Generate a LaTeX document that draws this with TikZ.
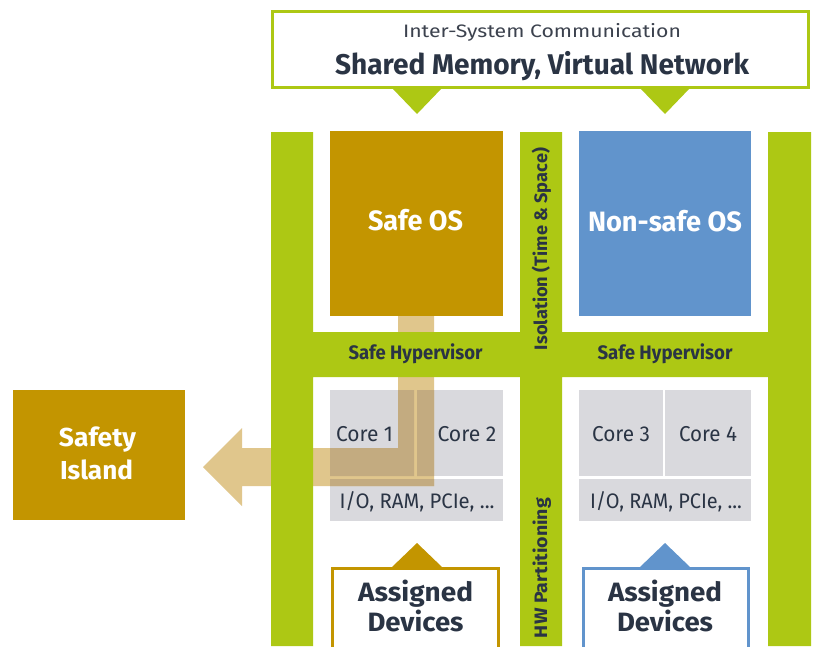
\documentclass[tikz,border=0pt]{standalone}
\usepackage{fontspec}
\setmainfont{Fira Sans}
\definecolor{hvgreen}{RGB}{173,200,20}
\definecolor{safegold}{RGB}{195,149,0}
\definecolor{nsblue}{RGB}{97,148,204}
\definecolor{coregrey}{RGB}{217,217,221}
\definecolor{arrowtan}{RGB}{224,198,140}
\definecolor{arrowdark}{RGB}{195,171,128}
\definecolor{darktext}{RGB}{42,52,68}
\definecolor{midtext}{RGB}{60,66,78}
\newcommand{\fitw}[2]{\resizebox{#1}{\height}{#2}}
\begin{document}
\begin{tikzpicture}[x=1pt,y=-1pt,
  blockbox/.style={inner sep=0pt,outer sep=0pt,draw=none},
  greybox/.style={blockbox,fill=coregrey},
  lbl/.style={inner sep=0pt,outer sep=0pt,anchor=base},
  every node/.append style={font=\fontsize{18}{20}\selectfont}]
\clip (0,0) rectangle (816,646);
\fill[white] (0,0) rectangle (816,646);

% core blocks
\node[greybox,minimum width=84pt,minimum height=86pt] (core1) at (372,433) {};
\node[greybox,minimum width=86pt,minimum height=86pt] (core2) at (460,433) {};
\node[greybox,minimum width=173pt,minimum height=42pt] (iol) at (416.5,500) {};
\node[greybox,minimum width=84pt,minimum height=86pt] (core3) at (621,433) {};
\node[greybox,minimum width=86pt,minimum height=86pt] (core4) at (708,433) {};
\node[greybox,minimum width=172pt,minimum height=42pt] (ior) at (665,500) {};

% fat arrow from Safe OS to Safety Island
\def\fatarrow{(434,316) -- (434,486) -- (242,486) -- (242,506) -- (203,467) -- (242,428) -- (242,448) -- (398,448) -- (398,316) -- cycle}
\fill[arrowtan] \fatarrow;
\begin{scope}
  \clip (core1.north west) rectangle (core1.south east)
        (core2.north west) rectangle (core2.south east)
        (iol.north west) rectangle (iol.south east);
  \fill[arrowdark] \fatarrow;
\end{scope}

% green hypervisor frame
\fill[hvgreen] (271,132) rectangle (313,646)
               (520,132) rectangle (562,646)
               (768,132) rectangle (811,646)
               (271,332) rectangle (811,377);

% OS blocks
\node[blockbox,fill=safegold,minimum width=173pt,minimum height=185pt] (safeos) at (416.5,223.5) {};
\node[blockbox,fill=nsblue,minimum width=172pt,minimum height=185pt] (nsos) at (665,223.5) {};
\node[blockbox,fill=safegold,minimum width=172pt,minimum height=130pt] (island) at (99,455) {};

% top communication box
\node[blockbox,draw=hvgreen,line width=3pt,fill=white,minimum width=536pt,minimum height=76pt] (comm) at (540.5,49.5) {};
\fill[hvgreen] (392,88) -- (442,88) -- (417,114) -- cycle;
\fill[hvgreen] (640,88) -- (690,88) -- (665,114) -- cycle;

% assigned devices
\node[blockbox,draw=safegold,line width=3pt,fill=white,minimum width=166pt,minimum height=111.5pt] (devl) at (415.5,624.25) {};
\node[blockbox,draw=nsblue,line width=3pt,fill=white,minimum width=165pt,minimum height=111.5pt] (devr) at (666,624.25) {};
\fill[safegold] (392,567) -- (442,567) -- (417,543) -- cycle;
\fill[nsblue] (640,567) -- (690,567) -- (665,543) -- cycle;

% texts
\node[lbl,text=midtext,font=\fontsize{18}{20}\selectfont] at (542,37) {\fitw{278pt}{Inter-System Communication}};
\node[lbl,text=darktext,font=\fontsize{28.5}{30}\selectfont\bfseries] at (542,74) {\fitw{414pt}{Shared Memory, Virtual Network}};
\node[lbl,text=white,font=\fontsize{28}{30}\selectfont\bfseries] at (415.5,230) {\fitw{95pt}{Safe OS}};
\node[lbl,text=white,font=\fontsize{28}{30}\selectfont\bfseries] at (665,231) {\fitw{154pt}{Non-safe OS}};
\node[lbl,text=darktext,font=\fontsize{19.5}{21}\selectfont\bfseries] at (415.5,359) {\fitw{134pt}{Safe Hypervisor}};
\node[lbl,text=darktext,font=\fontsize{19.5}{21}\selectfont\bfseries] at (665,359) {\fitw{135pt}{Safe Hypervisor}};
\node[lbl,rotate=90,text=darktext,font=\fontsize{18}{20}\selectfont\bfseries] at (547,249) {\fitw{202pt}{Isolation (Time \& Space)}};
\node[lbl,rotate=90,text=darktext,font=\fontsize{18}{20}\selectfont\bfseries] at (547,568) {\fitw{140pt}{HW Partitioning}};
\node[lbl,text=darktext,font=\fontsize{21.5}{23}\selectfont] at (364.5,441) {\fitw{57pt}{Core 1}};
\node[lbl,text=darktext,font=\fontsize{21.5}{23}\selectfont] at (467,441) {\fitw{59pt}{Core 2}};
\node[lbl,text=darktext,font=\fontsize{21.5}{23}\selectfont] at (621,441) {\fitw{58pt}{Core 3}};
\node[lbl,text=darktext,font=\fontsize{21.5}{23}\selectfont] at (708,441) {\fitw{58pt}{Core 4}};
\node[lbl,text=darktext,font=\fontsize{21}{23}\selectfont] at (417,508) {\fitw{155pt}{I/O, RAM, PCIe, ...}};
\node[lbl,text=darktext,font=\fontsize{21}{23}\selectfont] at (666,508) {\fitw{152pt}{I/O, RAM, PCIe, ...}};
\node[lbl,text=darktext,font=\fontsize{26.5}{28}\selectfont\bfseries] at (415.5,601) {\fitw{115pt}{Assigned}};
\node[lbl,text=darktext,font=\fontsize{26.5}{28}\selectfont\bfseries] at (415.5,631) {\fitw{96pt}{Devices}};
\node[lbl,text=darktext,font=\fontsize{26.5}{28}\selectfont\bfseries] at (665,601) {\fitw{114pt}{Assigned}};
\node[lbl,text=darktext,font=\fontsize{26.5}{28}\selectfont\bfseries] at (665,631) {\fitw{96pt}{Devices}};
\node[lbl,text=white,font=\fontsize{26}{28}\selectfont\bfseries] at (97.5,446) {\fitw{77pt}{Safety}};
\node[lbl,text=white,font=\fontsize{26}{28}\selectfont\bfseries] at (96.5,479) {\fitw{73pt}{Island}};
\end{tikzpicture}
\end{document}
